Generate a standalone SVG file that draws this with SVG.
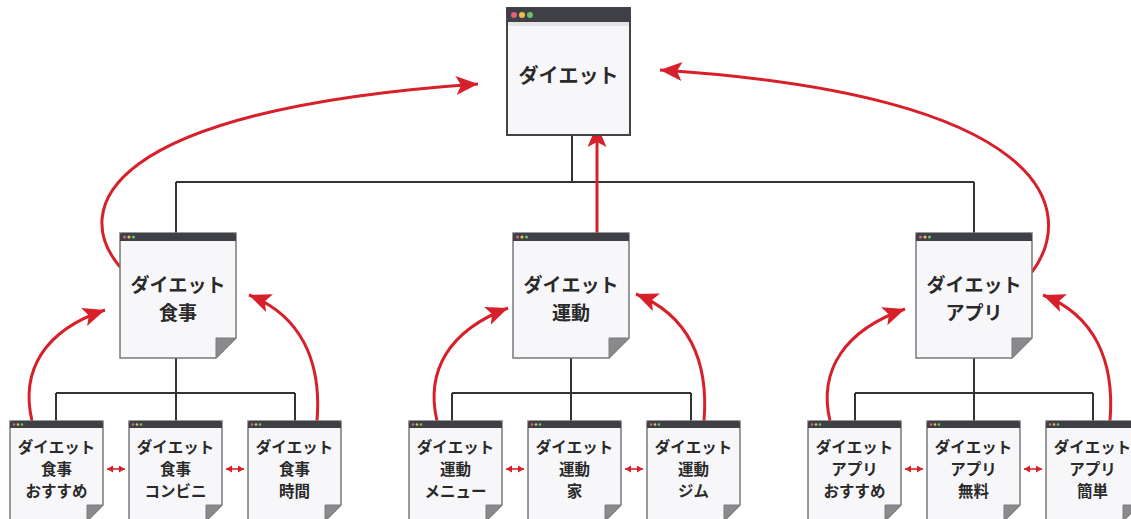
<svg xmlns="http://www.w3.org/2000/svg" width="1131" height="519" viewBox="0 0 1131 519">
<style>
.body{fill:#f7f7f9;stroke:#7a7a7c;stroke-width:1.5}
.topbody{fill:#f7f7f9;stroke:#444448;stroke-width:2}
.bar{fill:#3e4045}
.band{fill:#e4e4e7}
.fold{fill:#8a8a8c;stroke:#7a7a7c;stroke-width:1}
.dr{fill:#e0607e}.dy{fill:#e8c14a}.dg{fill:#6cbf6c}
.t{font-family:"Noto Sans CJK JP","Noto Sans",sans-serif;font-weight:bold;fill:#2a2a2a;text-anchor:middle}
.t20{font-size:20px}.t19{font-size:19px}.t16{font-size:15.5px}
.bus{fill:none;stroke:#333;stroke-width:2}
.red{fill:none;stroke:#d7202a;stroke-width:3}
.dbl{fill:none;stroke:#d7202a;stroke-width:1.6}
</style>
<defs>
<marker id="ah" markerUnits="userSpaceOnUse" markerWidth="24" markerHeight="20" refX="22" refY="9.5" orient="auto">
<path d="M0,0 L22,9.5 L0,19 L5,9.5 Z" fill="#d7202a"/>
</marker>
<marker id="sh" markerUnits="userSpaceOnUse" markerWidth="8" markerHeight="8" refX="6" refY="3.5" orient="auto-start-reverse">
<path d="M0,0 L6,3.5 L0,7 Z" fill="#d7202a"/>
</marker>
</defs>
<rect width="1131" height="519" fill="#fff"/>

<g id="connectors">
<path class="bus" d="M572 135 V182 M176 182 H974 M176 182 V233 M974 182 V233"/>
<path class="bus" d="M176 358 V393 M56 393 H295 M56 393 V421 M176 393 V421 M295 393 V421"/>
<path class="bus" d="M571 358 V393 M452 393 H691 M452 393 V421 M571 393 V421 M691 393 V421"/>
<path class="bus" d="M974 358 V393 M855 393 H1093 M855 393 V421 M974 393 V421 M1093 393 V421"/>
<path class="red" marker-end="url(#ah)" d="M597 233 V125"/>
<path class="red" marker-end="url(#ah)" d="M121 268 C70 210, 100 110, 478 84"/>
<path class="red" marker-end="url(#ah)" d="M1032 272 C1078 210, 1050 95, 660 70"/>
<path class="red" marker-end="url(#ah)" d="M32 421 C20 370, 45 330, 105 310"/>
<path class="red" marker-end="url(#ah)" d="M317 421 C322 360, 300 315, 249 295"/>
<path class="red" marker-end="url(#ah)" d="M437 421 C425 370, 450 330, 508 308"/>
<path class="red" marker-end="url(#ah)" d="M704 421 C709 360, 688 315, 636 294"/>
<path class="red" marker-end="url(#ah)" d="M830 421 C818 370, 845 330, 905 309"/>
<path class="red" marker-end="url(#ah)" d="M1110 421 C1115 360, 1094 315, 1043 295"/>
<g class="dbl" marker-start="url(#sh)" marker-end="url(#sh)">
<path d="M107 469 H125"/><path d="M226 469 H244"/>
<path d="M506 469 H524"/><path d="M625 469 H643"/>
<path d="M905 469 H923"/><path d="M1024 469 H1042"/>
</g>
</g>

<g id="n-top">
<rect class="topbody" x="507" y="8" width="123" height="127"/>
<path class="bar" d="M507 22 V11 Q507 8 510 8 H627 Q630 8 630 11 V22 Z"/>
<rect class="band" x="508" y="22" width="121" height="4"/>
<circle class="dr" cx="514" cy="15" r="3"/><circle class="dy" cx="522" cy="15" r="3"/><circle class="dg" cx="530" cy="15" r="3"/>
<text class="t t20" x="568.5" y="83">ダイエット</text>
</g>

<g id="n-meal">
<path class="body" d="M120 233 H236 V338 L216 358 H120 Z"/>
<path class="fold" d="M216 338 H236 L216 358 Z"/>
<path class="bar" d="M120 241 V235 Q120 233 122 233 H234 Q236 233 236 235 V241 Z"/>
<circle class="dr" cx="124.5" cy="237" r="1.6"/><circle class="dy" cx="129" cy="237" r="1.6"/><circle class="dg" cx="133.5" cy="237" r="1.6"/>
<text class="t t19" x="178" y="292">ダイエット</text>
<text class="t t19" x="178" y="320">食事</text>
</g>

<g id="n-exercise">
<path class="body" d="M513 233 H629 V338 L609 358 H513 Z"/>
<path class="fold" d="M609 338 H629 L609 358 Z"/>
<path class="bar" d="M513 241 V235 Q513 233 515 233 H627 Q629 233 629 235 V241 Z"/>
<circle class="dr" cx="517.5" cy="237" r="1.6"/><circle class="dy" cx="522" cy="237" r="1.6"/><circle class="dg" cx="526.5" cy="237" r="1.6"/>
<text class="t t19" x="571" y="292">ダイエット</text>
<text class="t t19" x="571" y="320">運動</text>
</g>

<g id="n-app">
<path class="body" d="M916 233 H1032 V338 L1012 358 H916 Z"/>
<path class="fold" d="M1012 338 H1032 L1012 358 Z"/>
<path class="bar" d="M916 241 V235 Q916 233 918 233 H1030 Q1032 233 1032 235 V241 Z"/>
<circle class="dr" cx="920.5" cy="237" r="1.6"/><circle class="dy" cx="925" cy="237" r="1.6"/><circle class="dg" cx="929.5" cy="237" r="1.6"/>
<text class="t t19" x="974" y="292">ダイエット</text>
<text class="t t19" x="974" y="320">アプリ</text>
</g>

<g id="n-meal-rec">
<path class="body" d="M10 421 H103 V505 L87 521 H10 Z"/><path class="fold" d="M87 505 H103 L87 521 Z"/>
<path class="bar" d="M10 428 V423 Q10 421 12 421 H101 Q103 421 103 423 V428 Z"/>
<circle class="dr" cx="14" cy="424.5" r="1.3"/><circle class="dy" cx="18" cy="424.5" r="1.3"/><circle class="dg" cx="22" cy="424.5" r="1.3"/>
<text class="t t16" x="56.5" y="453">ダイエット</text><text class="t t16" x="56.5" y="475">食事</text><text class="t t16" x="56.5" y="497">おすすめ</text>
</g>
<g id="n-meal-conv">
<path class="body" d="M129 421 H222 V505 L206 521 H129 Z"/><path class="fold" d="M206 505 H222 L206 521 Z"/>
<path class="bar" d="M129 428 V423 Q129 421 131 421 H220 Q222 421 222 423 V428 Z"/>
<circle class="dr" cx="133" cy="424.5" r="1.3"/><circle class="dy" cx="137" cy="424.5" r="1.3"/><circle class="dg" cx="141" cy="424.5" r="1.3"/>
<text class="t t16" x="175.5" y="453">ダイエット</text><text class="t t16" x="175.5" y="475">食事</text><text class="t t16" x="175.5" y="497">コンビニ</text>
</g>
<g id="n-meal-time">
<path class="body" d="M248 421 H341 V505 L325 521 H248 Z"/><path class="fold" d="M325 505 H341 L325 521 Z"/>
<path class="bar" d="M248 428 V423 Q248 421 250 421 H339 Q341 421 341 423 V428 Z"/>
<circle class="dr" cx="252" cy="424.5" r="1.3"/><circle class="dy" cx="256" cy="424.5" r="1.3"/><circle class="dg" cx="260" cy="424.5" r="1.3"/>
<text class="t t16" x="294.5" y="453">ダイエット</text><text class="t t16" x="294.5" y="475">食事</text><text class="t t16" x="294.5" y="497">時間</text>
</g>

<g id="n-ex-menu">
<path class="body" d="M409 421 H502 V505 L486 521 H409 Z"/><path class="fold" d="M486 505 H502 L486 521 Z"/>
<path class="bar" d="M409 428 V423 Q409 421 411 421 H500 Q502 421 502 423 V428 Z"/>
<circle class="dr" cx="413" cy="424.5" r="1.3"/><circle class="dy" cx="417" cy="424.5" r="1.3"/><circle class="dg" cx="421" cy="424.5" r="1.3"/>
<text class="t t16" x="455.5" y="453">ダイエット</text><text class="t t16" x="455.5" y="475">運動</text><text class="t t16" x="455.5" y="497">メニュー</text>
</g>
<g id="n-ex-home">
<path class="body" d="M528 421 H621 V505 L605 521 H528 Z"/><path class="fold" d="M605 505 H621 L605 521 Z"/>
<path class="bar" d="M528 428 V423 Q528 421 530 421 H619 Q621 421 621 423 V428 Z"/>
<circle class="dr" cx="532" cy="424.5" r="1.3"/><circle class="dy" cx="536" cy="424.5" r="1.3"/><circle class="dg" cx="540" cy="424.5" r="1.3"/>
<text class="t t16" x="574.5" y="453">ダイエット</text><text class="t t16" x="574.5" y="475">運動</text><text class="t t16" x="574.5" y="497">家</text>
</g>
<g id="n-ex-gym">
<path class="body" d="M647 421 H740 V505 L724 521 H647 Z"/><path class="fold" d="M724 505 H740 L724 521 Z"/>
<path class="bar" d="M647 428 V423 Q647 421 649 421 H738 Q740 421 740 423 V428 Z"/>
<circle class="dr" cx="651" cy="424.5" r="1.3"/><circle class="dy" cx="655" cy="424.5" r="1.3"/><circle class="dg" cx="659" cy="424.5" r="1.3"/>
<text class="t t16" x="693.5" y="453">ダイエット</text><text class="t t16" x="693.5" y="475">運動</text><text class="t t16" x="693.5" y="497">ジム</text>
</g>

<g id="n-app-rec">
<path class="body" d="M808 421 H901 V505 L885 521 H808 Z"/><path class="fold" d="M885 505 H901 L885 521 Z"/>
<path class="bar" d="M808 428 V423 Q808 421 810 421 H899 Q901 421 901 423 V428 Z"/>
<circle class="dr" cx="812" cy="424.5" r="1.3"/><circle class="dy" cx="816" cy="424.5" r="1.3"/><circle class="dg" cx="820" cy="424.5" r="1.3"/>
<text class="t t16" x="854.5" y="453">ダイエット</text><text class="t t16" x="854.5" y="475">アプリ</text><text class="t t16" x="854.5" y="497">おすすめ</text>
</g>
<g id="n-app-free">
<path class="body" d="M927 421 H1020 V505 L1004 521 H927 Z"/><path class="fold" d="M1004 505 H1020 L1004 521 Z"/>
<path class="bar" d="M927 428 V423 Q927 421 929 421 H1018 Q1020 421 1020 423 V428 Z"/>
<circle class="dr" cx="931" cy="424.5" r="1.3"/><circle class="dy" cx="935" cy="424.5" r="1.3"/><circle class="dg" cx="939" cy="424.5" r="1.3"/>
<text class="t t16" x="973.5" y="453">ダイエット</text><text class="t t16" x="973.5" y="475">アプリ</text><text class="t t16" x="973.5" y="497">無料</text>
</g>
<g id="n-app-easy">
<path class="body" d="M1046 421 H1139 V505 L1123 521 H1046 Z"/><path class="fold" d="M1123 505 H1139 L1123 521 Z"/>
<path class="bar" d="M1046 428 V423 Q1046 421 1048 421 H1137 Q1139 421 1139 423 V428 Z"/>
<circle class="dr" cx="1050" cy="424.5" r="1.3"/><circle class="dy" cx="1054" cy="424.5" r="1.3"/><circle class="dg" cx="1058" cy="424.5" r="1.3"/>
<text class="t t16" x="1092.5" y="453">ダイエット</text><text class="t t16" x="1092.5" y="475">アプリ</text><text class="t t16" x="1092.5" y="497">簡単</text>
</g>
</svg>
